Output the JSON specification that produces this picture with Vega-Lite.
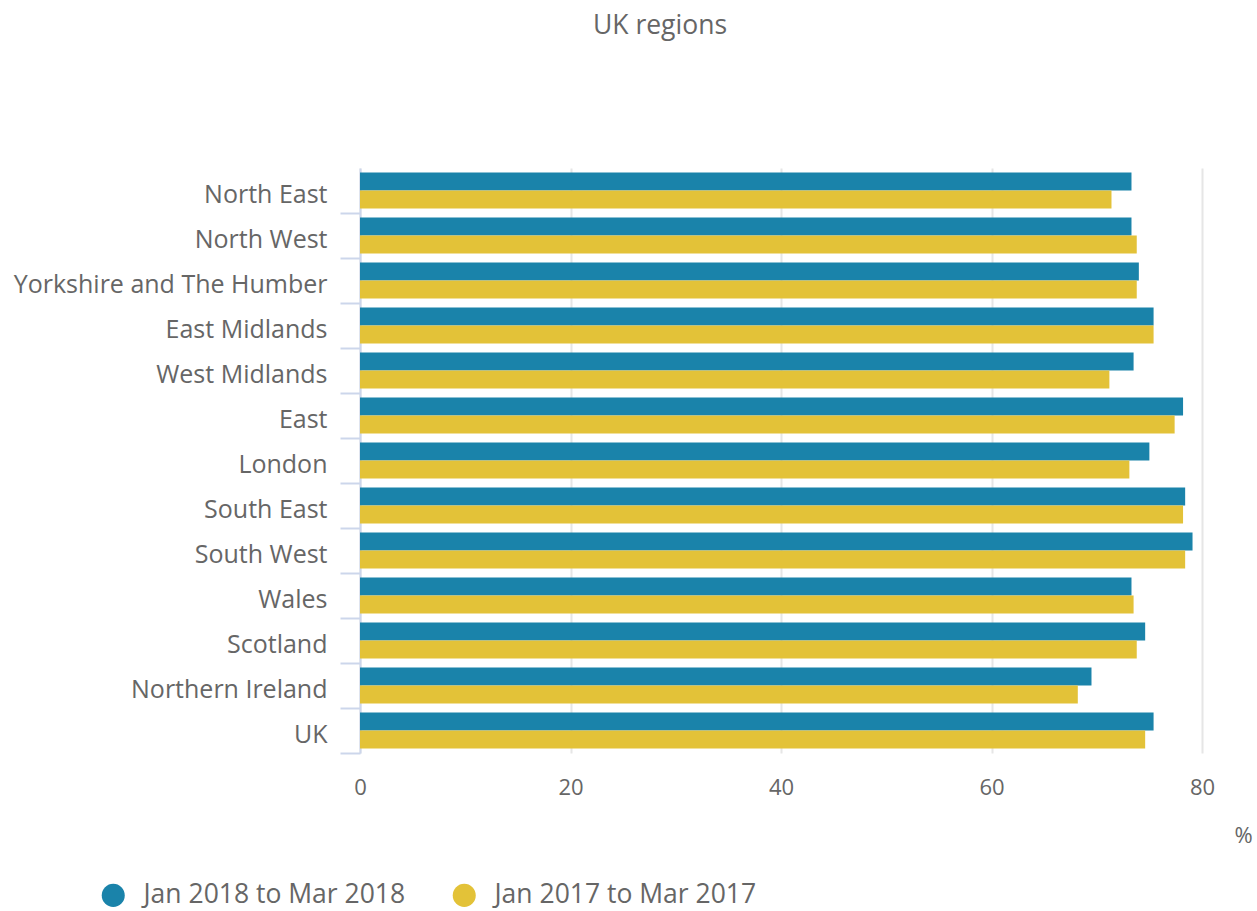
{
  "$schema": "https://vega.github.io/schema/vega-lite/v6.json",
  "autosize": {"type": "none"},
  "padding": {"left": 360, "top": 168, "right": 55, "bottom": 158},
  "width": 842,
  "height": 585,
  "background": "white",
  "config": {"font": "Open Sans", "view": {"stroke": null}},
  "title": {"text": "UK regions", "fontSize": 26.5, "fontWeight": "normal", "color": "#666666", "anchor": "middle", "dx": -121, "offset": 129},
  "data": {"values": [
    {"region": "North East", "period": "Jan 2018 to Mar 2018", "value": 73.3},
    {"region": "North East", "period": "Jan 2017 to Mar 2017", "value": 71.4},
    {"region": "North West", "period": "Jan 2018 to Mar 2018", "value": 73.3},
    {"region": "North West", "period": "Jan 2017 to Mar 2017", "value": 73.8},
    {"region": "Yorkshire and The Humber", "period": "Jan 2018 to Mar 2018", "value": 74.0},
    {"region": "Yorkshire and The Humber", "period": "Jan 2017 to Mar 2017", "value": 73.8},
    {"region": "East Midlands", "period": "Jan 2018 to Mar 2018", "value": 75.4},
    {"region": "East Midlands", "period": "Jan 2017 to Mar 2017", "value": 75.4},
    {"region": "West Midlands", "period": "Jan 2018 to Mar 2018", "value": 73.5},
    {"region": "West Midlands", "period": "Jan 2017 to Mar 2017", "value": 71.2},
    {"region": "East", "period": "Jan 2018 to Mar 2018", "value": 78.2},
    {"region": "East", "period": "Jan 2017 to Mar 2017", "value": 77.4},
    {"region": "London", "period": "Jan 2018 to Mar 2018", "value": 75.0},
    {"region": "London", "period": "Jan 2017 to Mar 2017", "value": 73.1},
    {"region": "South East", "period": "Jan 2018 to Mar 2018", "value": 78.4},
    {"region": "South East", "period": "Jan 2017 to Mar 2017", "value": 78.2},
    {"region": "South West", "period": "Jan 2018 to Mar 2018", "value": 79.1},
    {"region": "South West", "period": "Jan 2017 to Mar 2017", "value": 78.4},
    {"region": "Wales", "period": "Jan 2018 to Mar 2018", "value": 73.3},
    {"region": "Wales", "period": "Jan 2017 to Mar 2017", "value": 73.5},
    {"region": "Scotland", "period": "Jan 2018 to Mar 2018", "value": 74.6},
    {"region": "Scotland", "period": "Jan 2017 to Mar 2017", "value": 73.8},
    {"region": "Northern Ireland", "period": "Jan 2018 to Mar 2018", "value": 69.5},
    {"region": "Northern Ireland", "period": "Jan 2017 to Mar 2017", "value": 68.2},
    {"region": "UK", "period": "Jan 2018 to Mar 2018", "value": 75.4},
    {"region": "UK", "period": "Jan 2017 to Mar 2017", "value": 74.6}
  ]},
  "mark": {"type": "bar"},
  "encoding": {
    "y": {
      "field": "region", "type": "nominal", "sort": null,
      "scale": {"paddingInner": 0.2, "paddingOuter": 0.1},
      "axis": {
        "title": null, "labelFontSize": 25, "labelColor": "#666666", "labelPadding": 13, "labelLimit": 0,
        "tickColor": "#ccd6eb", "tickWidth": 2, "tickSize": 20, "tickOffset": 22.5, "labelOffset": -19,
        "domainColor": "#ccd6eb", "domainWidth": 2, "grid": false
      }
    },
    "yOffset": {"field": "period", "type": "nominal", "sort": ["Jan 2018 to Mar 2018", "Jan 2017 to Mar 2017"]},
    "x": {
      "field": "value", "type": "quantitative",
      "scale": {"domain": [0, 80], "nice": false},
      "axis": {
        "title": "%", "titleFontSize": 22, "titleFontWeight": "normal", "titleColor": "#666666",
        "titleX": 883, "titleY": 72, "titleAlign": "center",
        "values": [0, 20, 40, 60, 80], "labelFontSize": 22, "labelColor": "#666666", "labelPadding": 24, "labelFlush": false,
        "domain": false, "ticks": false, "grid": true, "gridColor": "#e6e6e6", "gridWidth": 2
      }
    },
    "color": {
      "field": "period", "type": "nominal",
      "sort": ["Jan 2018 to Mar 2018", "Jan 2017 to Mar 2017"],
      "scale": {"domain": ["Jan 2018 to Mar 2018", "Jan 2017 to Mar 2017"], "range": ["#1a83aa", "#e3c238"]},
      "legend": {
        "title": null, "orient": "none", "direction": "horizontal",
        "legendX": -260, "legendY": 714, "labelLimit": 0,
        "symbolType": "circle", "symbolSize": 530, "symbolStrokeWidth": 0, "symbolOpacity": 1,
        "labelFontSize": 26.5, "labelColor": "#666666", "labelOffset": 17, "columnPadding": 45
      }
    }
  }
}
